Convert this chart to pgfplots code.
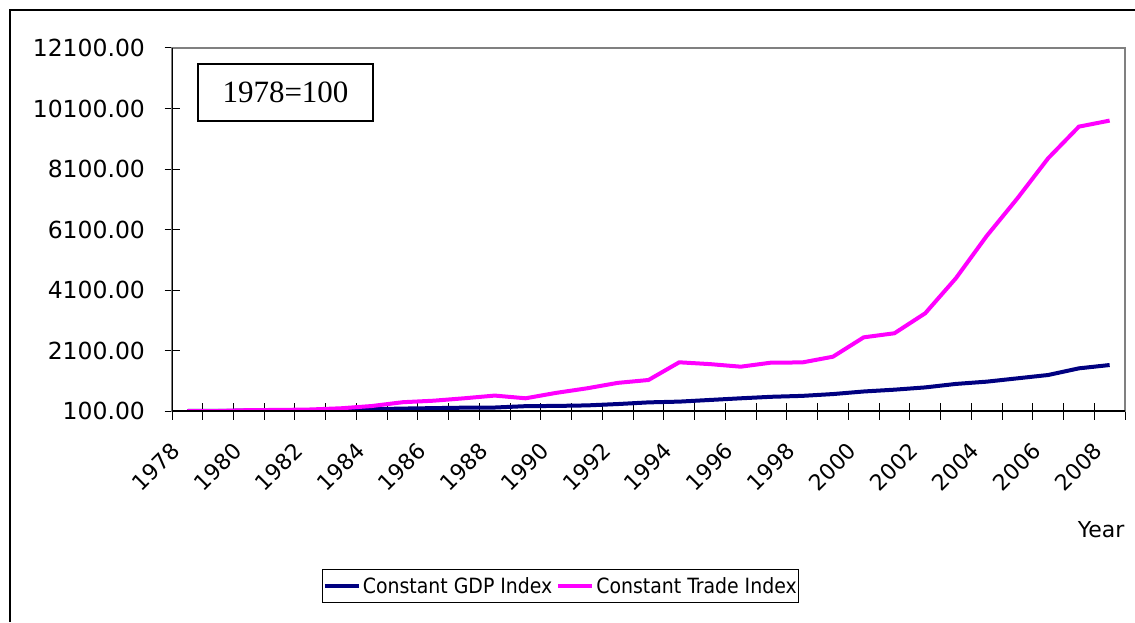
\documentclass[border=0pt]{standalone}
\usepackage{fontspec}
\setmainfont{DejaVu Sans}
\newfontfamily\legfont{DejaVu Sans Condensed}
\newfontfamily\boxfont{Liberation Serif}
\usepackage{pgfplots}
\usepackage{pgfplotstable}
\pgfplotsset{compat=1.18}
\definecolor{gdpnavy}{RGB}{0,0,128}
\definecolor{trademag}{RGB}{255,0,255}

% 1978 = 100
\pgfplotstableread{
idx year gdp trade
0  1978 100  100
1  1979 105  100
2  1980 112  130
3  1981 118  135
4  1982 128  150
5  1983 140  190
6  1984 160  265
7  1985 180  390
8  1986 195  440
9  1987 210  520
10 1988 215  610
11 1989 260  520
12 1990 268  700
13 1991 285  850
14 1992 330  1030
15 1993 385  1125
16 1994 410  1710
17 1995 465  1650
18 1996 520  1565
19 1997 570  1700
20 1998 600  1705
21 1999 660  1895
22 2000 745  2535
23 2001 805  2670
24 2002 880  3330
25 2003 995  4490
26 2004 1070 5885
27 2005 1180 7130
28 2006 1290 8455
29 2007 1510 9500
30 2008 1620 9700
}\indexdata

\begin{document}
\begin{tikzpicture}[x=1pt,y=1pt]
\useasboundingbox (0,0) rectangle (1135,622);
\draw[line width=1.5pt] (10,0) -- (10,612) -- (1135,612);
\begin{axis}[
    at={(172pt,211pt)}, anchor=south west,
    scale only axis, width=953pt, height=363pt,
    xmin=-0.5, xmax=30.5,
    ymin=100, ymax=12100,
    axis line style={draw=gray, line width=1.2pt},
    xtick={0,2,...,30},
    xticklabels={1978,1980,1982,1984,1986,1988,1990,1992,1994,1996,1998,2000,2002,2004,2006,2008},
    major x tick style={draw=none},
    minor xtick={-0.5,0.5,...,30.5},
    ytick={100,2100,4100,6100,8100,10100,12100},
    scaled y ticks=false,
    yticklabel={\pgfmathprintnumber[fixed,fixed zerofill,precision=2,1000 sep={}]{\tick}},
    /pgf/number format/assume math mode=true,
    tick align=center,
    xtick pos=bottom, ytick pos=left,
    major tick length=15pt, minor tick length=17pt,
    every tick/.style={black, line width=1pt},
    minor x tick style={black, line width=1pt},
    tick label style={font=\fontsize{22}{26}\selectfont},
    yticklabel style={anchor=east, xshift=-16pt, font=\fontsize{23.5}{27}\selectfont},
    xticklabel style={xshift=-9pt, yshift=-26pt, rotate=45, anchor=east},
    xlabel={Year},
    xlabel style={at={(rel axis cs:1,0)}, anchor=east, yshift=-119pt, xshift=3pt, font=\fontsize{22}{26}\selectfont},
    legend columns=2,
    legend style={at={(0.408,-0.482)}, anchor=center, draw=black, line width=1pt,
        font=\legfont\fontsize{21}{24}\selectfont, inner xsep=0pt, inner ysep=6pt,
        /tikz/every even column/.append style={column sep=2pt}},
    legend image code/.code={\draw[#1, line width=4pt] (0pt,0pt) -- (34pt,0pt);},
]
\addplot[gdpnavy, line width=4pt] table[x=idx, y=gdp] {\indexdata};
\addlegendentry{Constant GDP Index}
\addplot[trademag, line width=4pt] table[x=idx, y=trade] {\indexdata};
\addlegendentry{Constant Trade Index}
\draw[black, line width=1.5pt] (rel axis cs:0,1) -- (rel axis cs:0,0) -- (rel axis cs:1,0);
\end{axis}
\node[draw=black, line width=1.2pt, minimum width=175pt, minimum height=57pt,
      font=\boxfont\fontsize{31}{36}\selectfont] at (285.5,529.5) {1978=100};
\end{tikzpicture}
\end{document}
